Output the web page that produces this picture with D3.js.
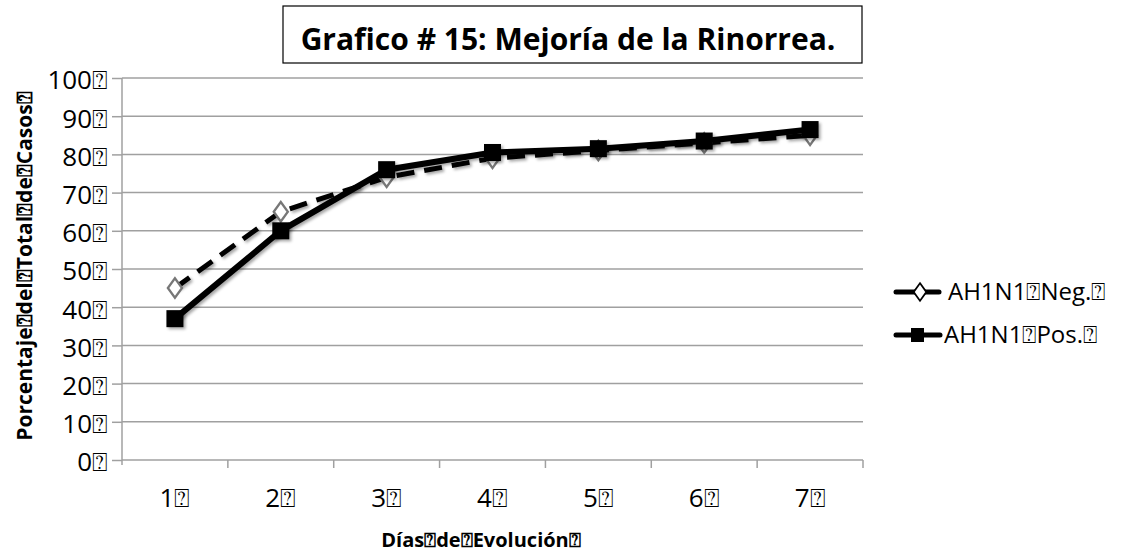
<!DOCTYPE html>
<html>
<head>
<meta charset="utf-8">
<script src="https://cdn.jsdelivr.net/npm/d3@7"></script>
<style>
  body { margin: 0; background: #fff; }
  text { font-family: "Open Sans", "Noto Sans", sans-serif; }
</style>
</head>
<body>
<svg width="1130" height="556"></svg>
<script>
let days = ["1", "2", "3", "4", "5", "6", "7"];
let negValues = [45, 65, 74, 79, 81, 83, 85];
let posValues = [37, 60, 76, 80.5, 81.5, 83.5, 86.5];
let yTicks = [0, 10, 20, 30, 40, 50, 60, 70, 80, 90, 100];
let box = "\u2370";

let svg = d3.select("svg");
let plotL = 122, plotR = 863, plotT = 78, plotB = 460;

let xScale = d3.scaleBand().domain(days).range([plotL, plotR]);
let yScale = d3.scaleLinear().domain([0, 100]).range([plotB, plotT]);

// shadow filter
let defs = svg.append("defs");
let f = defs.append("filter").attr("id", "sh").attr("x", "-50%").attr("y", "-50%").attr("width", "200%").attr("height", "200%");
f.append("feDropShadow").attr("dx", 2).attr("dy", 2).attr("stdDeviation", 1.5).attr("flood-color", "#000").attr("flood-opacity", 0.35);

// title
svg.append("rect").attr("x", 283).attr("y", 6).attr("width", 579).attr("height", 57)
  .attr("fill", "#fff").attr("stroke", "#000").attr("stroke-width", 1.2);
svg.append("text").attr("x", 568).attr("y", 50).attr("text-anchor", "middle")
  .style("font-size", "30px").style("font-weight", "bold")
  .text("Grafico # 15: Mejoría de la Rinorrea.");

// gridlines
svg.append("g").selectAll("line").data(yTicks.slice(1)).enter().append("line")
  .attr("x1", plotL).attr("x2", plotR)
  .attr("y1", d => yScale(d)).attr("y2", d => yScale(d))
  .attr("stroke", "#a0a0a0").attr("stroke-width", 1.5);

// y axis
let yAxis = d3.axisLeft(yScale).tickValues(yTicks).tickSize(10).tickPadding(4)
  .tickFormat(d => d + box);
let gy = svg.append("g").attr("transform", `translate(${plotL},0)`).call(yAxis);
gy.select(".domain").attr("stroke", "#a0a0a0").attr("stroke-width", 1.5).attr("d", `M-0,${plotT}V${plotB + 5}`);
gy.selectAll(".tick line").attr("stroke", "#a0a0a0").attr("stroke-width", 1.5);
gy.selectAll(".tick text").style("font-size", "26px").attr("fill", "#000").attr("dy", "0.42em")
  .style("font-family", "'Open Sans', sans-serif");

// x axis
let xAxis = d3.axisBottom(xScale).tickSize(0).tickPadding(29).tickFormat(d => d + box);
let gx = svg.append("g").attr("transform", `translate(0,${plotB})`).call(xAxis);
gx.select(".domain").attr("stroke", "#a0a0a0").attr("stroke-width", 1.5).attr("d", `M${plotL},0H${plotR}`);
gx.selectAll(".tick text").style("font-size", "26px").attr("fill", "#000")
  .style("font-family", "'Open Sans', sans-serif");
// band boundary ticks
gx.append("g").selectAll("line").data(days).enter().append("line")
  .attr("x1", d => xScale(d) + xScale.bandwidth()).attr("x2", d => xScale(d) + xScale.bandwidth())
  .attr("y1", 0).attr("y2", 8).attr("stroke", "#a0a0a0").attr("stroke-width", 1.5);

// axis titles
svg.append("text").attr("x", 481).attr("y", 547).attr("text-anchor", "middle")
  .style("font-size", "20px").style("font-weight", "bold")
  .text("Días" + box + "de" + box + "Evolución" + box);
svg.append("text").attr("transform", "translate(32,266) rotate(-90)").attr("text-anchor", "middle")
  .style("font-size", "21px").style("font-weight", "bold")
  .text("Porcentaje" + box + "del" + box + "Total" + box + "de" + box + "Casos" + box);

let cx = d => xScale(d) + xScale.bandwidth() / 2;
let line = vals => d3.line().x((d, i) => cx(days[i])).y(d => yScale(d))(vals);

// Neg series
svg.append("path").attr("d", line(negValues)).attr("fill", "none")
  .attr("stroke", "#000").attr("stroke-width", 5).attr("stroke-dasharray", "18,10")
  .attr("filter", "url(#sh)");
// Pos series
svg.append("path").attr("d", line(posValues)).attr("fill", "none")
  .attr("stroke", "#000").attr("stroke-width", 6).attr("filter", "url(#sh)");

let diamond = d3.symbol().type(d3.symbolDiamond).size(110);
svg.append("g").selectAll("path").data(negValues).enter().append("path")
  .attr("d", diamond)
  .attr("transform", (d, i) => `translate(${cx(days[i])},${yScale(d)}) scale(1.25,1)`)
  .attr("fill", "#fff").attr("stroke", "#777").attr("stroke-width", 2);

svg.append("g").selectAll("rect").data(posValues).enter().append("rect")
  .attr("x", (d, i) => cx(days[i]) - 8.5).attr("y", d => yScale(d) - 8.5)
  .attr("width", 17).attr("height", 17).attr("fill", "#000").attr("filter", "url(#sh)");

// legend
let lg = svg.append("g");
let legendY = [292, 335];
lg.append("line").attr("x1", 896).attr("x2", 939).attr("y1", legendY[0]).attr("y2", legendY[0])
  .attr("stroke", "#000").attr("stroke-width", 5).attr("stroke-linecap", "round");
lg.append("path").attr("d", d3.symbol().type(d3.symbolDiamond).size(90))
  .attr("transform", `translate(920,${legendY[0]}) scale(1.25,1)`)
  .attr("fill", "#fff").attr("stroke", "#000").attr("stroke-width", 1.5);
lg.append("text").attr("x", 948).attr("y", legendY[0] + 8).style("font-size", "24px")
  .text("AH1N1" + box + "Neg." + box);
lg.append("line").attr("x1", 896).attr("x2", 940).attr("y1", legendY[1]).attr("y2", legendY[1])
  .attr("stroke", "#000").attr("stroke-width", 5).attr("stroke-linecap", "round");
lg.append("rect").attr("x", 911).attr("y", legendY[1] - 7).attr("width", 13).attr("height", 14).attr("fill", "#000");
lg.append("text").attr("x", 944).attr("y", legendY[1] + 8).style("font-size", "24px")
  .text("AH1N1" + box + "Pos." + box);
</script>
</body>
</html>
